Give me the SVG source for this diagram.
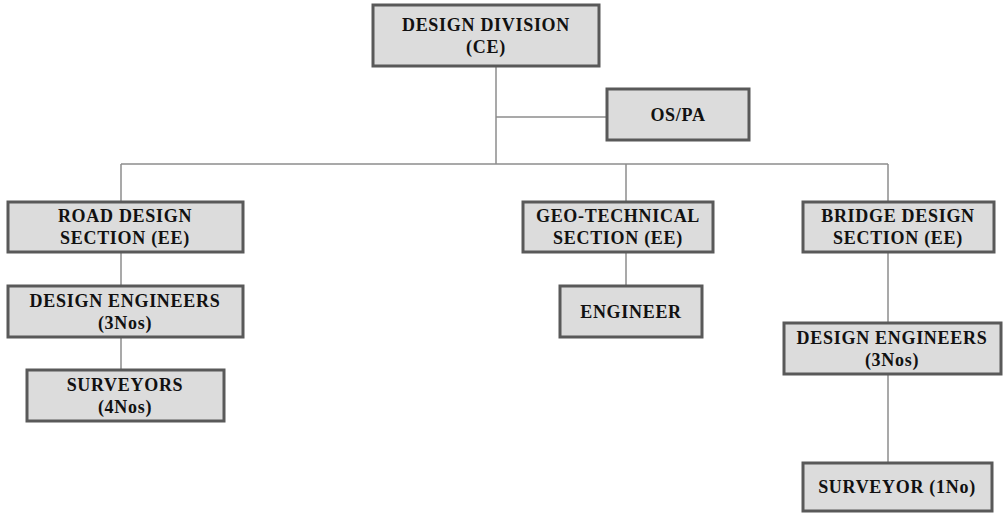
<svg xmlns="http://www.w3.org/2000/svg" width="1003" height="513" viewBox="0 0 1003 513">
  <style>
    .box { fill: #dcdcdc; stroke: #595959; stroke-width: 3; }
    .lbl { font-family: "Liberation Serif", "DejaVu Serif", serif; font-weight: bold; font-size: 18px; letter-spacing: 0.7px; fill: #111; text-anchor: middle; }
    .wire { stroke: #8c8c8c; stroke-width: 1.5; fill: none; }
  </style>
  <rect width="1003" height="513" fill="#fff"/>

  <g id="connectors">
    <path class="wire" d="M496 66 V164"/>
    <path class="wire" d="M496 117 H607"/>
    <path class="wire" d="M121 164 H888"/>
    <path class="wire" d="M121 164 V202"/>
    <path class="wire" d="M626 164 V202"/>
    <path class="wire" d="M888 164 V202"/>
    <path class="wire" d="M121 252 V286"/>
    <path class="wire" d="M121 337 V370"/>
    <path class="wire" d="M626 252 V286"/>
    <path class="wire" d="M888 252 V323"/>
    <path class="wire" d="M888 374 V463"/>
  </g>

  <g id="design-division">
    <rect class="box" x="373" y="5" width="226" height="61"/>
    <text class="lbl" x="486" y="31">DESIGN DIVISION</text>
    <text class="lbl" x="486" y="53">(CE)</text>
  </g>

  <g id="os-pa">
    <rect class="box" x="607" y="89" width="142" height="51"/>
    <text class="lbl" x="678" y="121">OS/PA</text>
  </g>

  <g id="road-design">
    <rect class="box" x="8" y="202" width="235" height="50"/>
    <text class="lbl" x="125" y="222">ROAD DESIGN</text>
    <text class="lbl" x="125" y="244">SECTION (EE)</text>
  </g>

  <g id="road-engineers">
    <rect class="box" x="8" y="286" width="235" height="51"/>
    <text class="lbl" x="125" y="307">DESIGN ENGINEERS</text>
    <text class="lbl" x="125" y="329">(3Nos)</text>
  </g>

  <g id="road-surveyors">
    <rect class="box" x="27" y="370" width="197" height="51"/>
    <text class="lbl" x="125" y="391">SURVEYORS</text>
    <text class="lbl" x="125" y="413">(4Nos)</text>
  </g>

  <g id="geo-technical">
    <rect class="box" x="523" y="202" width="190" height="50"/>
    <text class="lbl" x="618" y="222">GEO-TECHNICAL</text>
    <text class="lbl" x="618" y="244">SECTION  (EE)</text>
  </g>

  <g id="geo-engineer">
    <rect class="box" x="560" y="286" width="142" height="51"/>
    <text class="lbl" x="631" y="318">ENGINEER</text>
  </g>

  <g id="bridge-design">
    <rect class="box" x="803" y="202" width="191" height="50"/>
    <text class="lbl" x="898" y="222">BRIDGE DESIGN</text>
    <text class="lbl" x="898" y="244">SECTION (EE)</text>
  </g>

  <g id="bridge-engineers">
    <rect class="box" x="784" y="323" width="217" height="51"/>
    <text class="lbl" x="892" y="344">DESIGN ENGINEERS</text>
    <text class="lbl" x="892" y="366">(3Nos)</text>
  </g>

  <g id="bridge-surveyor">
    <rect class="box" x="803" y="463" width="189" height="48"/>
    <text class="lbl" x="897" y="493">SURVEYOR (1No)</text>
  </g>
</svg>
